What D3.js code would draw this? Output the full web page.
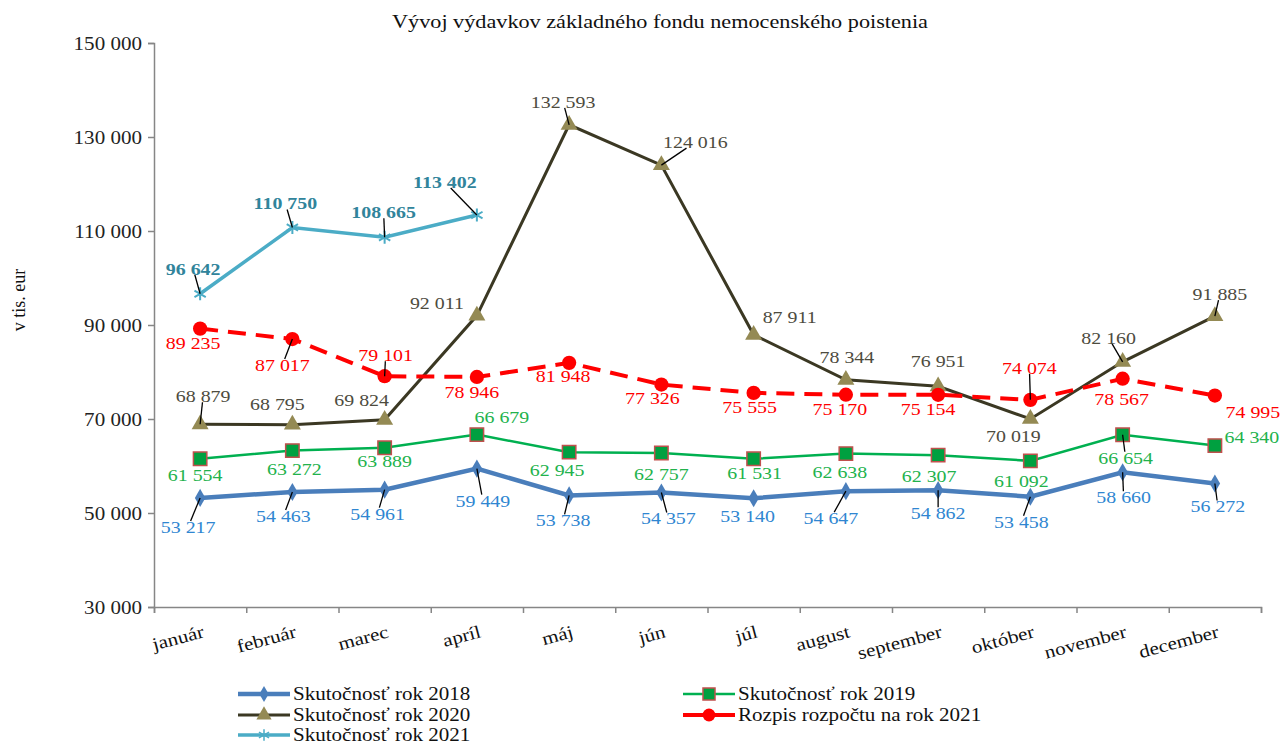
<!DOCTYPE html>
<meta charset="utf-8">
<body style="margin:0;background:#fff">
<script src="https://cdnjs.cloudflare.com/ajax/libs/d3/7.8.5/d3.min.js"></script>
<script>

// data
var months = ["január", "február", "marec", "apríl", "máj", "jún", "júl", "august", "september", "október", "november", "december"];
var yTickValues = [30000, 50000, 70000, 90000, 110000, 130000, 150000];
var yTickLabels = ["30 000", "50 000", "70 000", "90 000", "110 000", "130 000", "150 000"];

var s2018 = [53217, 54463, 54961, 59449, 53738, 54357, 53140, 54647, 54862, 53458, 58660, 56272];
var s2019 = [61554, 63272, 63889, 66679, 62945, 62757, 61531, 62638, 62307, 61092, 66654, 64340];
var s2020 = [68879, 68795, 69824, 92011, 132593, 124016, 87911, 78344, 76951, 70019, 82160, 91885];
var s2021 = [96642, 110750, 108665, 113402];
var budget2021 = [89235, 87017, 79101, 78946, 81948, 77326, 75555, 75170, 75154, 74074, 78567, 74995];

// label placement: [dx, dy, leader line?] relative to the point
var off2018 = [[-12,29,1],[-9,24,1],[-7,24,1],[6,32,1],[-6,25,1],[7,26,1],[-6,18,0],[-15,27,1],[0,23,1],[-9,25,1],[1,25,1],[3,23,1]];
var off2019 = [[-5,16,0],[2,18,0],[0,13,0],[25,-18,0],[-12,18,0],[0,21,0],[1,14,0],[-6,18,0],[-9,21,0],[-9,20,0],[3,23,1],[37,-9,0]];
var off2020 = [[3,-28,1],[-15,-21,0],[-23,-20,0],[-40,-13,0],[-6,-23,1],[34,-23,1],[36,-18,0],[1,-23,0],[0,-25,0],[-17,17,0],[-14,-24,1],[5,-22,1]];
var off2021 = [[-7,-25,1],[-7,-24,1],[-1,-25,1],[-32,-33,1]];
var offBudget = [[-7,14,0],[-10,26,1],[1,-21,1],[-5,15,0],[-6,13,0],[-9,13,0],[-4,14,0],[-6,14,0],[-10,14,0],[-1,-32,1],[-1,20,0],[38,17,0]];

var font = "'Liberation Serif', 'Times New Roman', serif";
var SX = 1.17; // the original text is drawn a bit wide

var series = [
  {name: "Skutočnosť rok 2018", values: s2018, off: off2018, color: "#4a7ebb", width: 4.5, label: "#2f86d1", symbol: d3.symbolDiamond, size: 95, fill: "#4a7ebb", stroke: "none"},
  {name: "Skutočnosť rok 2019", values: s2019, off: off2019, color: "#00b050", width: 2.5, label: "#22b24c", symbol: d3.symbolSquare, size: 180, fill: "#00a040", stroke: "#c0504d"},
  {name: "Skutočnosť rok 2020", values: s2020, off: off2020, color: "#3b3823", width: 3, label: "#4d4b3e", symbol: d3.symbolTriangle, size: 125, fill: "#948a54", stroke: "none"},
  {name: "Rozpis rozpočtu na rok 2021", values: budget2021, off: offBudget, color: "#ff0000", width: 4, dash: "18,10", label: "#ff0000", symbol: d3.symbolCircle, size: 160, fill: "#ff0000", stroke: "none"},
  {name: "Skutočnosť rok 2021", values: s2021, off: off2021, color: "#4bacc6", width: 3.5, label: "#31849b", bold: true, symbol: d3.symbolAsterisk, size: 120, fill: "none", stroke: "#4bacc6"}
];

var W = 1282, H = 744;
var mLeft = 154, mRight = 1261, mTop = 43, mBottom = 607;

var svg = d3.select("body").append("svg")
    .attr("width", W)
    .attr("height", H)
    .style("font-family", font);

var x = d3.scaleBand().domain(months).range([mLeft, mRight]);
var xEdge = d3.scaleLinear().domain([0, 12]).range([mLeft, mRight]);
var y = d3.scaleLinear().domain([30000, 150000]).range([mBottom, mTop]);

// wide text helper
function wideText(parent, tx, ty, extra) {
  return parent.append("g")
      .attr("transform", "translate(" + tx + "," + ty + ")" + (extra || "") + " scale(" + SX + ",1)")
    .append("text");
}

// title
wideText(svg, 660, 28)
    .attr("text-anchor", "middle")
    .attr("font-size", 19)
    .attr("fill", "#111")
    .text("Vývoj výdavkov základného fondu nemocenského poistenia");

// y axis
var yAxis = svg.append("g")
    .attr("transform", "translate(" + mLeft + ",0)")
    .call(d3.axisLeft(y).tickValues(yTickValues).tickSize(6).tickFormat(""));
yAxis.selectAll(".tick").each(function(d, i) {
  wideText(d3.select(this), -12, 0)
      .attr("dy", "0.35em")
      .attr("text-anchor", "end")
      .attr("font-size", 18)
      .attr("font-family", font)
      .attr("fill", "#222")
      .text(yTickLabels[i]);
});

// x axis, ticks between categories
var xAxis = svg.append("g")
    .attr("transform", "translate(0," + mBottom + ")")
    .call(d3.axisBottom(xEdge).tickValues(d3.range(13)).tickSize(6).tickFormat(""));

[yAxis, xAxis].forEach(function(g) {
  g.select(".domain").attr("stroke", "#868686").attr("stroke-width", 1.5);
  g.selectAll(".tick line").attr("stroke", "#868686").attr("stroke-width", 1.5);
});

var monthG = svg.append("g");
months.forEach(function(m) {
  wideText(monthG, x(m) + x.bandwidth() / 2 + 5, mBottom + 30, " rotate(-15)")
      .attr("text-anchor", "end")
      .attr("font-size", 18)
      .attr("fill", "#111")
      .text(m);
});

// y axis title
svg.append("text")
    .attr("transform", "translate(25,300) rotate(-90)")
    .attr("text-anchor", "middle")
    .attr("font-size", 18)
    .attr("fill", "#111")
    .text("v tis. eur");

var line = d3.line()
    .x(function(d, i) { return x(months[i]) + x.bandwidth() / 2; })
    .y(function(d) { return y(d); });

var fmt = function(v) { return d3.format(",")(v).replace(/,/g, " "); };

// lines
series.forEach(function(s) {
  svg.append("path")
      .datum(s.values)
      .attr("fill", "none")
      .attr("stroke", s.color)
      .attr("stroke-width", s.width)
      .attr("stroke-dasharray", s.dash || null)
      .attr("d", line);
});

// markers
series.forEach(function(s) {
  svg.append("g").selectAll("path")
      .data(s.values)
    .enter().append("path")
      .attr("transform", function(d, i) { return "translate(" + line.x()(d, i) + "," + y(d) + ")"; })
      .attr("d", d3.symbol().type(s.symbol).size(s.size))
      .attr("fill", s.fill)
      .attr("stroke", s.stroke)
      .attr("stroke-width", s.symbol === d3.symbolAsterisk ? 2 : 1.5);
});

// data labels with leader lines
var leaders = svg.append("g");
var labels = svg.append("g");
series.forEach(function(s) {
  s.values.forEach(function(v, i) {
    var px = line.x()(v, i), py = y(v);
    var o = s.off[i];
    var t = wideText(labels, px + o[0], py + o[1])
        .attr("dy", "0.35em")
        .attr("text-anchor", "middle")
        .attr("font-size", 17)
        .attr("font-weight", s.bold ? "bold" : null)
        .attr("fill", s.label)
        .text(fmt(v));
    if (o[2]) {
      var b = t.node().getBBox();
      var cx = px + o[0], cy = py + o[1];
      var hw = b.width * SX / 2 + 1, hh = 6;
      var ddx = px - cx, ddy = py - cy;
      var k = Math.min(Math.abs(ddx) > 0 ? hw / Math.abs(ddx) : 1e9, Math.abs(ddy) > 0 ? hh / Math.abs(ddy) : 1e9);
      if (k < 1) {
        leaders.append("line")
            .attr("x1", cx + ddx * k).attr("y1", cy + ddy * k)
            .attr("x2", px).attr("y2", py)
            .attr("stroke", "#000")
            .attr("stroke-width", 1.3);
      }
    }
  });
});

// legend
var legendRows = [
  {s: series[0], x: 238, y: 694}, {s: series[1], x: 683, y: 694},
  {s: series[2], x: 238, y: 715}, {s: series[3], x: 683, y: 715},
  {s: series[4], x: 238, y: 735}
];
var lg = svg.append("g").selectAll("g")
    .data(legendRows)
  .enter().append("g")
    .attr("transform", function(d) { return "translate(" + d.x + "," + d.y + ")"; });
lg.append("line")
    .attr("x1", 0).attr("x2", 52)
    .attr("stroke", function(d) { return d.s.color; })
    .attr("stroke-width", function(d) { return d.s.width; });
lg.append("path")
    .attr("transform", "translate(26,0)")
    .attr("d", function(d) { return d3.symbol().type(d.s.symbol).size(d.s.size * 0.8)(); })
    .attr("fill", function(d) { return d.s.fill; })
    .attr("stroke", function(d) { return d.s.stroke; })
    .attr("stroke-width", 1.5);
lg.each(function(d) {
  wideText(d3.select(this), 55, 0)
      .attr("dy", "0.35em")
      .attr("font-size", 18)
      .attr("fill", "#111")
      .text(d.s.name);
});

</script>
</body>
